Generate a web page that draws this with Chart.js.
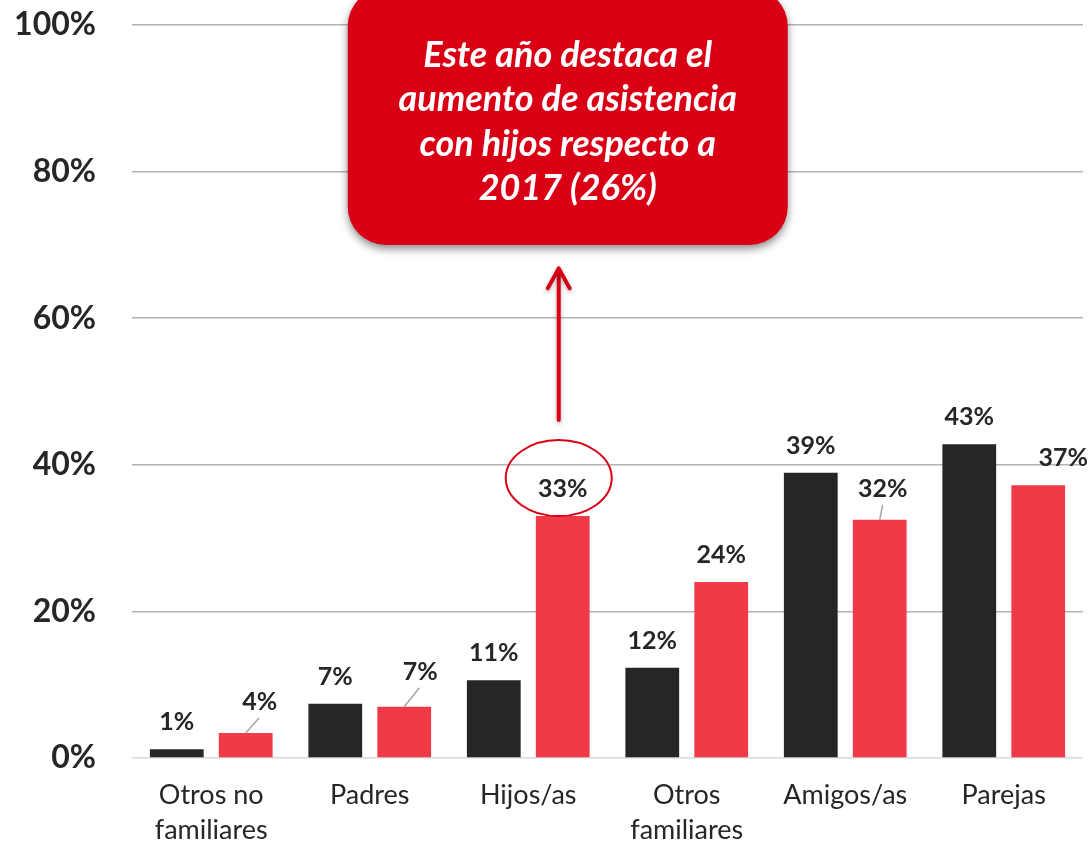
<!DOCTYPE html>
<html>
<head>
<meta charset="utf-8">
<script src="https://cdn.jsdelivr.net/npm/chart.js@4.4.1/dist/chart.umd.min.js"></script>
<style>
  html, body { margin: 0; padding: 0; background: #fff; }
  #wrap { width: 1088px; height: 845px; position: relative; }
</style>
</head>
<body>
<div id="wrap"><canvas id="grafico"></canvas></div>
<script>
// datos
var categorias = [["Otros no", "familiares"], "Padres", "Hijos/as", ["Otros", "familiares"], "Amigos/as", "Parejas"];
var serieAnterior = [1.2, 7.4, 10.6, 12.3, 38.9, 42.8];
var serieActual = [3.4, 7.0, 33.0, 24.0, 32.5, 37.2];
var etiquetasAnterior = ["1%", "7%", "11%", "12%", "39%", "43%"];
var etiquetasActual = ["4%", "7%", "33%", "24%", "32%", "37%"];
var textoNota = ["Este año destaca el", "aumento de asistencia", "con hijos respecto a", "2017 (26%)"];

var NEGRO = "#262626";
var ROJO = "#F03A48";
var ROJO_NOTA = "#D90016";

// ajustes de posicion de algunas etiquetas (dx, dy, con linea guia)
var ajustes = {
    "1-0": { dx: 14, dy: -31, guia: true },
    "1-1": { dx: 16, dy: -35, guia: true },
    "1-4": { dx: 3, dy: -31, guia: true },
    "1-5": { dx: 25, dy: -27 }
};

var pluginEtiquetas = {
    id: "etiquetas",
    afterDatasetsDraw: function(chart) {
        var ctx = chart.ctx;
        ctx.save();
        ctx.font = "bold 25px Lato";
        ctx.fillStyle = NEGRO;
        ctx.textAlign = "center";
        ctx.textBaseline = "middle";
        var listas = [etiquetasAnterior, etiquetasActual];
        chart.data.datasets.forEach(function(ds, d) {
            var meta = chart.getDatasetMeta(d);
            meta.data.forEach(function(bar, i) {
                var aj = ajustes[d + "-" + i] || { dx: 0, dy: -27 };
                var x = bar.x + aj.dx;
                var y = bar.y + aj.dy;
                if (aj.guia) {
                    ctx.strokeStyle = "#a6a6a6";
                    ctx.lineWidth = 1.5;
                    ctx.beginPath();
                    ctx.moveTo(bar.x, bar.y);
                    ctx.lineTo(bar.x + aj.dx * 0.95, y + 16);
                    ctx.stroke();
                }
                ctx.fillText(listas[d][i], x, y);
            });
        });
        ctx.restore();
    }
};

var pluginNota = {
    id: "nota",
    afterDraw: function(chart) {
        var ctx = chart.ctx;
        var barra = chart.getDatasetMeta(1).data[2];
        var ys = chart.scales.y;
        var cx = barra.x;
        var ey = barra.y - 38;

        // elipse alrededor del 33%
        ctx.save();
        ctx.strokeStyle = ROJO_NOTA;
        ctx.lineWidth = 2;
        ctx.beginPath();
        ctx.ellipse(cx - 4, ey, 53, 38, 0, 0, Math.PI * 2);
        ctx.stroke();

        // flecha
        var fx = cx - 4;
        var abajo = ey - 58;
        var punta = ys.getPixelForValue(66.8);
        ctx.shadowColor = "rgba(0,0,0,0.3)";
        ctx.shadowBlur = 4;
        ctx.shadowOffsetY = 2;
        ctx.lineWidth = 4;
        ctx.lineCap = "round";
        ctx.lineJoin = "round";
        ctx.beginPath();
        ctx.moveTo(fx, abajo);
        ctx.lineTo(fx, punta + 2);
        ctx.stroke();
        ctx.beginPath();
        ctx.moveTo(fx - 11, punta + 20);
        ctx.lineTo(fx, punta);
        ctx.lineTo(fx + 11, punta + 20);
        ctx.stroke();

        // caja
        var izq = cx - 215, der = cx + 225;
        var base = ys.getPixelForValue(70);
        var tope = -12, r = 38;
        ctx.shadowColor = "rgba(0,0,0,0.45)";
        ctx.shadowBlur = 8;
        ctx.shadowOffsetY = 4;
        ctx.fillStyle = ROJO_NOTA;
        ctx.beginPath();
        ctx.roundRect(izq, tope, der - izq, base - tope, r);
        ctx.fill();
        ctx.restore();

        ctx.save();
        ctx.fillStyle = "#ffffff";
        ctx.font = "italic bold 36px Lato";
        ctx.textAlign = "center";
        ctx.textBaseline = "middle";
        var mx = (izq + der) / 2;
        textoNota.forEach(function(t, i) {
            ctx.fillText(t, mx, 55 + i * 44.5);
        });
        ctx.restore();
    }
};

new Chart(document.getElementById("grafico"), {
    type: "bar",
    data: {
        labels: categorias,
        datasets: [
            { label: "2017", data: serieAnterior, backgroundColor: NEGRO },
            { label: "2018", data: serieActual, backgroundColor: ROJO }
        ]
    },
    options: {
        responsive: true,
        maintainAspectRatio: false,
        animation: false,
        layout: { padding: { top: 25, right: 5, left: 0, bottom: 0 } },
        plugins: {
            legend: { display: false },
            tooltip: { enabled: false }
        },
        datasets: {
            bar: { categoryPercentage: 0.87, barPercentage: 0.78 }
        },
        scales: {
            x: {
                grid: { display: false },
                border: { display: false },
                ticks: {
                    color: NEGRO,
                    font: { family: "Lato", size: 27, lineHeight: 1.3 },
                    padding: 12,
                    maxRotation: 0,
                    autoSkip: false
                },
                afterFit: function(scale) { scale.height = 87; }
            },
            y: {
                min: 0,
                max: 100,
                grid: {
                    color: function(c) { return c.tick.value === 0 ? "#d9d9d9" : "#b3b3b3"; },
                    lineWidth: 1.5,
                    drawTicks: false
                },
                border: { display: false },
                ticks: {
                    stepSize: 20,
                    color: NEGRO,
                    padding: 36,
                    font: { family: "Lato", size: 32, weight: "bold" },
                    callback: function(v) { return v + "%"; }
                },
                afterFit: function(scale) {
                    scale.width = 132;
                    scale.paddingTop = 0;
                    scale.paddingBottom = 0;
                }
            }
        }
    },
    plugins: [pluginEtiquetas, pluginNota]
});
</script>
</body>
</html>
